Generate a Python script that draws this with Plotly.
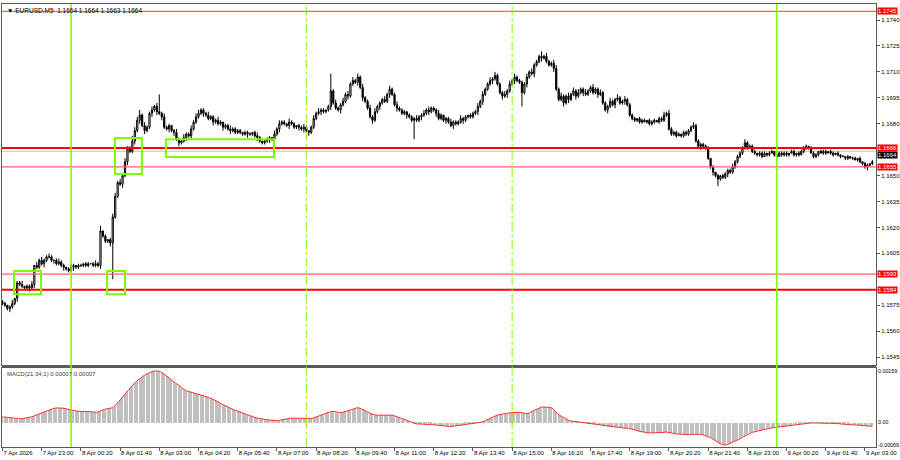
import plotly.graph_objects as go

# ---------------- data (prices in pips above 1.1500) ----------------
BASE = 1.1500
PIP = 0.0001
FIRST_OPEN = 77

CLOSE_PIPS = [
    76, 75, 73, 74, 76, 79, 88, 87, 86, 85, 86, 85, 87, 98, 97, 101,
    99, 101, 103, 103, 101, 101, 99, 100, 98, 97, 96, 95, 97, 98, 97, 98,
    98, 99, 98, 99, 99, 98, 99, 98, 118, 115, 112, 113, 111, 126, 138, 146,
    145, 150, 158, 166, 164, 170, 176, 182, 185, 179, 176, 178, 186, 188, 190, 187,
    186, 184, 178, 177, 179, 176, 175, 171, 169, 170, 172, 174, 173, 177, 181, 184,
    186, 188, 186, 185, 183, 184, 181, 182, 180, 181, 178, 179, 177, 176, 177, 175,
    176, 175, 174, 175, 174, 174, 175, 173, 172, 170, 169, 170, 171, 172, 171, 174,
    177, 180, 181, 180, 179, 181, 180, 178, 179, 178, 177, 178, 176, 175, 178, 183,
    186, 187, 188, 187, 188, 190, 199, 192, 189, 188, 191, 193, 197, 196, 203, 205,
    204, 207, 201, 195, 193, 189, 184, 182, 187, 190, 192, 194, 193, 197, 200, 197,
    191, 189, 188, 186, 187, 185, 184, 182, 183, 182, 184, 185, 186, 188, 187, 189,
    188, 186, 183, 185, 182, 183, 181, 179, 181, 180, 181, 183, 182, 184, 185, 184,
    186, 187, 190, 193, 197, 200, 203, 205, 206, 208, 203, 198, 196, 197, 199, 203,
    205, 207, 205, 204, 198, 203, 207, 210, 209, 214, 216, 219, 218, 219, 216, 214,
    215, 212, 200, 194, 196, 192, 196, 194, 197, 199, 196, 198, 200, 198, 197, 199,
    201, 198, 200, 197, 198, 192, 188, 190, 193, 191, 194, 195, 192, 193, 194, 191,
    185, 183, 182, 183, 181, 182, 181, 182, 180, 181, 182, 181, 183, 182, 185, 186,
    177, 174, 175, 173, 174, 173, 175, 174, 176, 178, 179, 170, 167, 168, 167, 166,
    160, 155, 152, 150, 148, 150, 149, 151, 153, 152, 155, 158, 161, 163, 166, 169,
    166, 167, 164, 163, 162, 163, 161, 163, 162, 163, 164, 162, 161, 163, 162, 163,
    162, 163, 164, 162, 163, 162, 164, 166, 167, 166, 163, 161, 162, 164, 163, 164,
    163, 164, 163, 162, 163, 162, 161, 161, 160, 161, 160, 160, 159, 160, 158, 157,
    155, 156, 157, 158,
]

# wick lengths in pips (base-36 digits), one character per bar
UP_WICK = "".join([
    "1101201120112021", "2112101211012101", "1011012130101221", "2121132231211212",
    "a121101211211212", "2111211121011211", "1101110121011102", "1211021101121012",
    "121101a121121212", "1212112121112121", "1211101112112121", "1121011211121101",
    "1121211212111212", "1211112121113121", "1221211212121121", "1211211121121121",
    "1110111011101121", "2111101111211111", "1010101111211112", "1111011101101111",
    "1011011110111011", "1011010101011010", "1101",
])
DN_WICK = "".join([
    "1112112111121211", "1211121112111211", "1111011121112l11", "1212112121211212",
    "1211212121121211", "1121112111211211", "1111211121111211", "1211121112121211",
    "1121112111211211", "1212111211211121", "12111211b1121121", "1211121121112111",
    "1121211121112121", "1211812112112111", "1211121211211211", "1112111211211121",
    "1111110111101111", "1111011111111211", "1121411121111111", "1011111011011011",
    "1101110111011101", "1011011011010111", "1211",
])

# MACD(21,34,1) histogram, in units of 0.00001
MACD_E5 = [
    18, 17, 15, 14, 13, 12, 12, 12, 12, 13, 14, 16, 18, 21, 24, 28,
    31, 34, 37, 40, 43, 44, 45, 46, 45, 44, 42, 40, 38, 37, 36, 35,
    35, 34, 34, 33, 33, 33, 32, 32, 36, 40, 42, 43, 45, 46, 52, 60,
    69, 78, 88, 97, 106, 114, 122, 129, 135, 141, 146, 150, 154, 157, 159, 159,
    158, 154, 149, 144, 138, 131, 125, 119, 113, 108, 103, 98, 96, 94, 92, 90,
    88, 86, 84, 81, 78, 75, 72, 68, 64, 59, 55, 51, 48, 45, 41, 38,
    35, 32, 29, 26, 23, 20, 18, 16, 14, 12, 11, 10, 9, 8, 7, 6,
    6, 7, 9, 11, 12, 13, 14, 14, 15, 15, 15, 15, 14, 13, 12, 14,
    17, 20, 23, 26, 29, 32, 34, 35, 33, 31, 30, 32, 34, 35, 38, 41,
    44, 46, 44, 41, 37, 33, 28, 25, 24, 23, 23, 23, 23, 24, 23, 23,
    21, 18, 15, 13, 10, 7, 4, 1, -2, -4, -4, -5, -5, -6, -6, -6,
    -7, -7, -8, -8, -9, -10, -11, -12, -11, -10, -10, -9, -8, -6, -5, -4,
    -3, -2, -1, -1, 2, 6, 10, 13, 17, 20, 23, 25, 27, 28, 29, 30,
    31, 32, 33, 32, 30, 28, 27, 30, 34, 38, 41, 45, 48, 48, 48, 47,
    46, 40, 32, 25, 20, 15, 10, 7, 5, 4, 3, 2, 1, 0, -1, -2,
    -3, -4, -5, -7, -8, -10, -11, -12, -13, -13, -14, -15, -15, -16, -17, -17,
    -18, -20, -22, -25, -27, -29, -30, -31, -32, -32, -32, -32, -32, -31, -30, -29,
    -31, -33, -34, -35, -35, -36, -36, -37, -37, -36, -36, -35, -35, -36, -38, -40,
    -42, -46, -51, -56, -61, -65, -68, -69, -67, -64, -61, -57, -54, -50, -45, -41,
    -36, -32, -30, -28, -26, -25, -23, -21, -19, -17, -16, -15, -14, -13, -12, -12,
    -11, -10, -8, -7, -5, -4, -3, -2, -1, -1, -1, -1, -1, -1, -1, -1,
    -1, -1, -1, -1, -2, -3, -4, -5, -6, -6, -7, -7, -7, -8, -8, -9,
    -9, -10, -11, -11,
]

TIME_LABELS = [
    "7 Apr 2026", "7 Apr 23:00", "8 Apr 00:20", "8 Apr 01:40", "8 Apr 03:00",
    "8 Apr 04:20", "8 Apr 05:40", "8 Apr 07:00", "8 Apr 08:20", "8 Apr 09:40",
    "8 Apr 11:00", "8 Apr 12:20", "8 Apr 13:40", "8 Apr 15:00", "8 Apr 16:20",
    "8 Apr 17:40", "8 Apr 19:00", "8 Apr 20:20", "8 Apr 21:40", "8 Apr 23:00",
    "9 Apr 00:20", "9 Apr 01:40", "9 Apr 03:00",
]
BARS_PER_LABEL = 16

PRICE_TICKS = [1.1545, 1.1560, 1.1575, 1.1605, 1.1620, 1.1635, 1.1650,
               1.1680, 1.1695, 1.1710, 1.1725, 1.1740]
STRONG_LEVELS = [1.1666, 1.1584]
WEAK_LEVELS = [1.1745, 1.1655, 1.1593]
BID = 1.1664

DAY_SEPARATORS = [28, 316]      # bar index of 8 Apr 00:00 and 9 Apr 00:00
SESSION_LINES = [124, 208]      # bar index of 8 Apr 08:00 and 15:00

# highlighted zones: (bar from, bar to, price low, price high)
ZONES = [
    (4.7, 15.7, 1.15814, 1.15948),
    (42.7, 50.0, 1.15814, 1.15948),
    (45.9, 56.9, 1.16509, 1.16717),
    (66.7, 110.8, 1.16607, 1.16711),
]

MACD_TICKS = [0.00159, 0.0, -0.00069]
MACD_TEXT = ["0.00159", "0.00", "-0.00069"]
TITLE = "\u25bc EURUSD,M5  1.1664 1.1664 1.1663 1.1664"
MACD_TITLE = "MACD(21,34,1) 0.00007 0.00007"

# ---------------- build OHLC ----------------
n = len(CLOSE_PIPS)
assert len(UP_WICK) == n and len(DN_WICK) == n and len(MACD_E5) == n, (n, len(UP_WICK), len(DN_WICK), len(MACD_E5))
opens_p = [FIRST_OPEN] + CLOSE_PIPS[:-1]
xs = list(range(n))
o = [BASE + p * PIP for p in opens_p]
c = [BASE + p * PIP for p in CLOSE_PIPS]
h = [BASE + (max(a, b) + int(u, 36)) * PIP for a, b, u in zip(opens_p, CLOSE_PIPS, UP_WICK)]
l = [BASE + (min(a, b) - int(d, 36)) * PIP for a, b, d in zip(opens_p, CLOSE_PIPS, DN_WICK)]
macd = [v * 1e-5 for v in MACD_E5]

FONT = "Liberation Sans"
LIME = "#7CFC00"
FRAME = "#5a5a5a"

fig = go.Figure()
fig.add_trace(go.Candlestick(
    x=xs, open=o, high=h, low=l, close=c, xaxis="x", yaxis="y",
    increasing=dict(line=dict(color="black", width=1), fillcolor="white"),
    decreasing=dict(line=dict(color="black", width=1), fillcolor="black"),
    whiskerwidth=0, showlegend=False, hoverinfo="skip",
))
fig.add_trace(go.Bar(
    x=xs, y=macd, xaxis="x2", yaxis="y2", marker=dict(color="#c0c0c0", line=dict(width=0)),
    width=0.5, showlegend=False, hoverinfo="skip",
))
fig.add_trace(go.Scatter(
    x=xs, y=macd, xaxis="x2", yaxis="y2", mode="lines",
    line=dict(color="#ff3030", width=1), showlegend=False, hoverinfo="skip",
))

XR = [-0.2, 356.5]
MAIN_DOM = [0.1851, 1.0]
MACD_DOM = [0.0, 0.1783]

shapes = []
# panel separator
shapes.append(dict(type="rect", xref="paper", yref="paper", x0=0, x1=1,
                   y0=MACD_DOM[1], y1=MAIN_DOM[0], fillcolor=FRAME, line=dict(width=0), layer="above"))
# horizontal levels
shapes.append(dict(type="line", xref="paper", yref="y", x0=0, x1=1, y0=BID, y1=BID,
                   line=dict(color="#c8c8c8", width=1), layer="below"))
for lv in WEAK_LEVELS:
    shapes.append(dict(type="line", xref="paper", yref="y", x0=0, x1=1, y0=lv, y1=lv,
                       line=dict(color="#ff6060", width=1.2)))
for lv in STRONG_LEVELS:
    shapes.append(dict(type="line", xref="paper", yref="y", x0=0, x1=1, y0=lv, y1=lv,
                       line=dict(color="#ff0000", width=2)))
# vertical lines
for b in DAY_SEPARATORS:
    shapes.append(dict(type="line", xref="x", yref="paper", x0=b, x1=b, y0=0, y1=1,
                       line=dict(color=LIME, width=1.5)))
for b in SESSION_LINES:
    shapes.append(dict(type="line", xref="x", yref="paper", x0=b, x1=b, y0=0, y1=1,
                       line=dict(color=LIME, width=1, dash="dashdot")))
# zones
for x0, x1, y0, y1 in ZONES:
    shapes.append(dict(type="rect", xref="x", yref="y", x0=x0, x1=x1, y0=y0, y1=y1,
                       line=dict(color=LIME, width=2), fillcolor="rgba(0,0,0,0)"))

annotations = []
lab_font = dict(family=FONT, size=6, color="white")
annotations.append(dict(xref="paper", yref="y", x=1, y=STRONG_LEVELS[0], xanchor="left", yanchor="middle",
                        xshift=1, yshift=-7, text=f"{BID:.4f}", showarrow=False, bgcolor="black",
                        font=lab_font, borderpad=0))
for lv in WEAK_LEVELS + STRONG_LEVELS:
    annotations.append(dict(xref="paper", yref="y", x=1, y=lv, xanchor="left", yanchor="middle",
                            xshift=1, text=f"{lv:.4f}", showarrow=False, bgcolor="#ff0000",
                            font=lab_font, borderpad=0))
annotations.append(dict(xref="paper", yref="paper", x=0, y=1, xanchor="left", yanchor="top",
                        xshift=3, yshift=-1, text=TITLE, showarrow=False,
                        font=dict(family=FONT, size=6.5, color="black")))
annotations.append(dict(xref="paper", yref="paper", x=0, y=MACD_DOM[1], xanchor="left", yanchor="top",
                        xshift=3, yshift=-1, text=MACD_TITLE, showarrow=False,
                        font=dict(family=FONT, size=6, color="#404040")))

tick_font = dict(family=FONT, size=6, color="black")
fig.update_layout(
    width=900, height=460,
    margin=dict(l=2, r=24, t=4, b=13, autoexpand=False),
    paper_bgcolor="white", plot_bgcolor="white",
    showlegend=False, bargap=0,
    xaxis=dict(domain=[0, 1], anchor="y", range=XR, showticklabels=False, ticks="",
               automargin=False,
               showgrid=False, zeroline=False, showline=True, mirror=True,
               linecolor=FRAME, linewidth=1, rangeslider=dict(visible=False)),
    yaxis=dict(domain=MAIN_DOM, anchor="x", side="right", automargin=False,
               range=[1.15404, 1.17493], tickvals=PRICE_TICKS,
               ticktext=[f"{t:.4f}" for t in PRICE_TICKS], ticks="outside", ticklen=3,
               tickcolor=FRAME, tickfont=tick_font, showgrid=False, zeroline=False,
               showline=True, mirror=True, linecolor=FRAME, linewidth=1),
    xaxis2=dict(domain=[0, 1], anchor="y2", range=XR, matches="x", automargin=False,
                tickvals=[i * BARS_PER_LABEL for i in range(len(TIME_LABELS))],
                ticktext=TIME_LABELS, ticks="outside", ticklen=3, tickcolor=FRAME,
                ticklabelposition="outside right", tickfont=tick_font, tickangle=0,
                showgrid=False, zeroline=False, showline=True, mirror=True,
                linecolor=FRAME, linewidth=1),
    yaxis2=dict(domain=MACD_DOM, anchor="x2", side="right", automargin=False,
                range=[-0.00075, 0.00168],
                tickvals=MACD_TICKS, ticktext=MACD_TEXT, ticks="", ticklabelstandoff=0,
                tickfont=dict(family=FONT, size=5.3, color="black"),
                showgrid=False, zeroline=False,
                showline=True, mirror=True, linecolor=FRAME, linewidth=1),
    shapes=shapes, annotations=annotations,
)

fig.write_html("out.html", config={"displayModeBar": False},
               post_script="document.body.style.margin='0';document.body.style.overflow='hidden';")
